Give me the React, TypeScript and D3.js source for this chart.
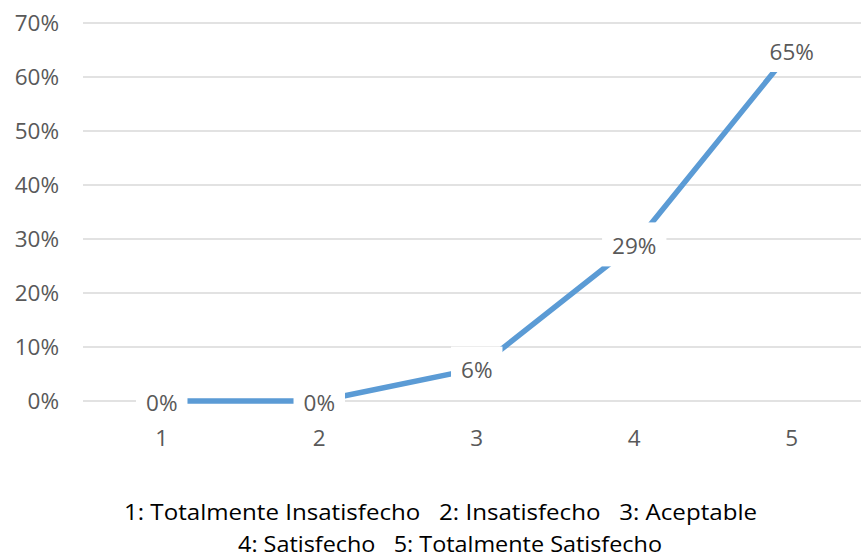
import React, { useEffect, useRef } from "react";
import * as d3 from "d3";

const categories = ["1", "2", "3", "4", "5"];
const values = [0, 0, 0.06, 0.29, 0.65];
const valueLabels = ["0%", "0%", "6%", "29%", "65%"];
const yTicks = [0, 0.1, 0.2, 0.3, 0.4, 0.5, 0.6, 0.7];
const captionLines = [
  "1: Totalmente Insatisfecho   2: Insatisfecho   3: Aceptable",
  "4: Satisfecho   5: Totalmente Satisfecho",
];

const W = 861;
const H = 557;

export default function App() {
  const ref = useRef<SVGSVGElement>(null);

  useEffect(() => {
    const svg = d3.select(ref.current);
    svg.selectAll("*").remove();

    const x = d3.scaleBand<string>().domain(categories).range([83, 870.5]);
    const y = d3.scaleLinear().domain([0, 0.7]).range([401, 23]);
    const cx = (c: string) => (x(c) as number) + x.bandwidth() / 2;
    const font = "'Open Sans', 'Noto Sans', sans-serif";

    // gridlines
    svg
      .append("g")
      .selectAll("line")
      .data(yTicks)
      .join("line")
      .attr("x1", 83)
      .attr("x2", W)
      .attr("y1", (d) => y(d))
      .attr("y2", (d) => y(d))
      .attr("stroke", "#d9d9d9")
      .attr("stroke-width", 1.5);

    // y tick labels
    svg
      .append("g")
      .selectAll("text")
      .data(yTicks)
      .join("text")
      .attr("x", 59)
      .attr("y", (d) => y(d) - 0.5)
      .attr("text-anchor", "end")
      .attr("dominant-baseline", "central")
      .attr("font-family", font)
      .attr("font-size", 22.5)
      .attr("fill", "#595959")
      .text((d) => d3.format(".0%")(d));

    // x tick labels
    svg
      .append("g")
      .selectAll("text")
      .data(categories)
      .join("text")
      .attr("x", (d) => cx(d))
      .attr("y", 437)
      .attr("text-anchor", "middle")
      .attr("dominant-baseline", "central")
      .attr("font-family", font)
      .attr("font-size", 22.5)
      .attr("fill", "#595959")
      .text((d) => d);

    // line
    const pts = categories.map((c, i) => [cx(c), y(values[i])] as [number, number]);
    svg
      .append("path")
      .attr("d", d3.line()(pts) as string)
      .attr("fill", "none")
      .attr("stroke", "#5b9bd5")
      .attr("stroke-width", 5.5)
      .attr("stroke-linejoin", "round");

    // data labels
    const lg = svg.append("g");
    pts.forEach(([px, py], i) => {
      const g = lg.append("g");
      const rect = g.append("rect").attr("fill", "#ffffff");
      const t = g
        .append("text")
        .attr("x", px)
        .attr("y", py + 1)
        .attr("text-anchor", "middle")
        .attr("dominant-baseline", "central")
        .attr("font-family", font)
        .attr("font-size", 22.5)
        .attr("fill", "#595959")
        .text(valueLabels[i]);
      const tw = (t.node() as SVGTextElement).getComputedTextLength();
      const bw = tw + 20;
      const bh = 44;
      rect
        .attr("x", px - bw / 2)
        .attr("y", py - bh / 2)
        .attr("width", bw)
        .attr("height", bh);
    });

    // caption
    const capX = [440.5, 450];
    const capY = [512, 544];
    const capW = [633, 424];
    svg
      .append("g")
      .selectAll("text")
      .data(captionLines)
      .join("text")
      .attr("x", (_d, i) => capX[i])
      .attr("y", (_d, i) => capY[i])
      .attr("text-anchor", "middle")
      .attr("dominant-baseline", "central")
      .attr("font-family", "'Liberation Sans Narrow', 'Open Sans', sans-serif")
      .attr("font-size", 21)
      .attr("fill", "#000000")
      .attr("textLength", (_d, i) => capW[i])
      .attr("lengthAdjust", "spacingAndGlyphs")
      .style("white-space", "pre")
      .text((d) => d);
  }, []);

  return (
    <div style={{ position: "fixed", left: 0, top: 0, width: W, height: H, background: "#fff" }}>
      <svg ref={ref} width={W} height={H} style={{ display: "block" }} />
    </div>
  );
}
